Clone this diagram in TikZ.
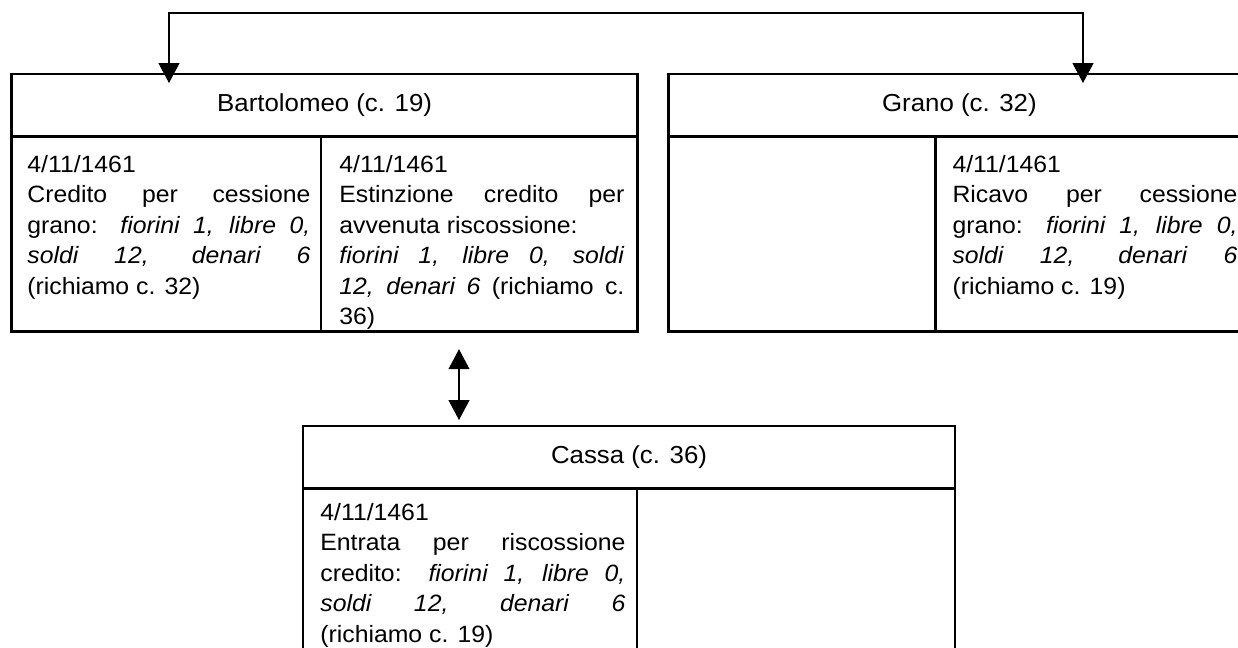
\documentclass[tikz,border=0pt]{standalone}
\usepackage{fontspec}
\setmainfont{Liberation Sans}[FakeStretch=1.05]
\usetikzlibrary{arrows.meta}
\tolerance=9999
\hbadness=10000

\begin{document}
\begin{tikzpicture}[x=0.5pt, y=-0.5pt,
  >={Triangle[length=10pt,width=10.5pt]},
  font=\fontsize{11.8}{15.25}\selectfont,
  cell/.style={draw, line width=1.4pt, anchor=north west, inner sep=0pt, outer sep=0pt,
    minimum height=31.4pt, font=\fontsize{12.3}{15.25}\selectfont},
  col/.style={draw, line width=1.4pt, anchor=north west, inner sep=0pt, outer sep=0pt, minimum height=97.2pt},
  entry/.style={anchor=north west, inner sep=0pt, align=justify}]

% frame of the picture
\useasboundingbox (0,0) rectangle (1238,648);
\clip (0,0) rectangle (1238,648);

% Bartolomeo (c. 19)
\node [cell, minimum width=313pt] (bartHead) at (11.6,74) {Bartolomeo (c. 19)};
\node [col, minimum width=154.7pt] (bartDare) at (bartHead.south west) {};
\node [col, minimum width=158.2pt] (bartAvere) at (bartDare.north east) {};
\node [entry, text width=141.5pt] (bartDareTxt) at ([shift={(7.7pt,-9pt)}]bartDare.north west)
  {4/11/1461\\ Credito per cessione\linebreak grano: \textit{fiorini 1, libre 0,}\linebreak \textit{soldi 12, denari 6}\linebreak (richiamo c. 32)};
\node [entry, text width=142.5pt] (bartAvereTxt) at ([shift={(9pt,-9pt)}]bartAvere.north west)
  {4/11/1461\\ Estinzione credito per\linebreak avvenuta riscossione:\\ \textit{fiorini 1, libre 0, soldi}\linebreak \textit{12, denari 6} (richiamo c.\linebreak 36)};

% Grano (c. 32)
\node [cell, minimum width=290.7pt] (granoHead) at (668.7,74) {Grano (c. 32)};
\node [col, minimum width=133.2pt] (granoDare) at (granoHead.south west) {};
\node [col, minimum width=157.5pt] (granoAvere) at (granoDare.north east) {};
\node [entry, text width=142.5pt] (granoAvereTxt) at ([shift={(8.5pt,-9pt)}]granoAvere.north west)
  {4/11/1461\\ Ricavo per cessione\linebreak grano: \textit{fiorini 1, libre 0,}\linebreak \textit{soldi 12, denari 6}\linebreak (richiamo c. 19)};

% Cassa (c. 36)
\node [cell, minimum width=326pt] (cassaHead) at (303,426) {Cassa (c. 36)};
\node [col, minimum width=167pt, minimum height=120pt] (cassaDare) at (cassaHead.south west) {};
\node [col, minimum width=159pt, minimum height=120pt] (cassaAvere) at (cassaDare.north east) {};
\node [entry, text width=152.5pt] (cassaDareTxt) at ([shift={(8.5pt,-7pt)}]cassaDare.north west)
  {4/11/1461\\ Entrata per riscossione\linebreak credito: \textit{fiorini 1, libre 0,}\linebreak \textit{soldi 12, denari 6}\linebreak (richiamo c. 19)};

% richiami tra i conti
\coordinate (leftDrop) at (169,13);
\coordinate (rightDrop) at (1083,13);
\draw [<->, line width=0.6pt, shorten <=-4.5pt, shorten >=-4.5pt]
  (leftDrop |- bartHead.north) -- (leftDrop) -- (rightDrop) -- (rightDrop |- granoHead.north);

\coordinate (cashLink) at (459,0);
\draw [<->, line width=0.6pt, shorten <=3pt, shorten >=9pt]
  (cashLink |- cassaHead.north) -- (cashLink |- bartAvere.south);

\end{tikzpicture}
\end{document}
